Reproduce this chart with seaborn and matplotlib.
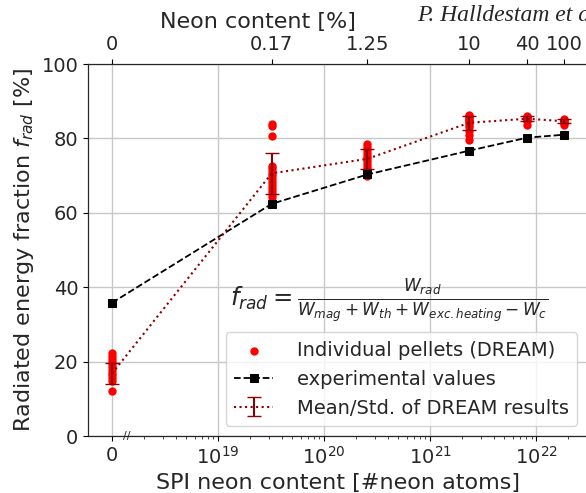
import numpy as np
import pandas as pd
import matplotlib
matplotlib.use("Agg")
import matplotlib.pyplot as plt
import matplotlib.ticker as mticker
import seaborn as sns

# neon atoms per scenario (0 is drawn at 1e18 on the log axis)
neon_atoms = [1e18, 3.2e19, 2.55e20, 2.33e21, 8.2e21, 1.84e22]
neon_pct_labels = ["0", "0.17", "1.25", "10", "40", "100"]

exp_values = [35.8, 62.4, 70.3, 76.7, 80.2, 81.0]
dream_mean = [16.8, 70.6, 74.5, 84.2, 85.3, 84.6]
dream_std = [2.7, 5.6, 2.7, 1.9, 0.6, 0.55]

pellets = [
    [22.2, 21.5, 20.8, 20.0, 19.3, 18.6, 17.8, 17.0, 16.3, 15.5, 14.8, 12.0],
    [84.0, 83.2, 80.7, 72.6, 72.0, 71.2, 70.5, 69.8, 69.0, 68.2, 67.4, 66.6, 65.8, 65.0, 64.3],
    [78.5, 77.8, 77.0, 76.2, 75.4, 74.6, 73.8, 73.0, 72.2, 71.4, 70.6, 69.8],
    [86.3, 86.0, 85.7, 85.3, 85.0, 84.6, 84.2, 83.6, 83.0, 82.0, 80.8, 79.5],
    [86.0, 85.7, 85.4, 85.2, 84.9, 84.6, 83.5],
    [85.3, 85.0, 84.7, 84.5, 84.2, 83.7],
]

bottom_ticks = [1e18, 1e19, 1e20, 1e21, 1e22]
bottom_labels = ["0", "$10^{19}$", "$10^{20}$", "$10^{21}$", "$10^{22}$"]

sns.set_style("ticks")
plt.rcParams["font.family"] = ["DejaVu Sans"]

df_pel = pd.DataFrame(
    [(x, v) for x, vals in zip(neon_atoms, pellets) for v in vals],
    columns=["atoms", "frad"],
)
df_exp = pd.DataFrame({"atoms": neon_atoms, "frad": exp_values})

fig = plt.figure(figsize=(5.86, 4.93), dpi=100)
ax = fig.add_axes([88 / 586, 57 / 493, 499 / 586, 372 / 493])

sns.scatterplot(data=df_pel, x="atoms", y="frad", ax=ax, color="red", s=36,
                linewidth=0, label="Individual pellets (DREAM)", zorder=3)
sns.lineplot(data=df_exp, x="atoms", y="frad", ax=ax, color="black", marker="s",
             markersize=5.5, linestyle="--", linewidth=1.3, markeredgecolor="black",
             label="experimental values", zorder=4)
ax.errorbar(neon_atoms, dream_mean, yerr=dream_std, color="darkred", linestyle=":",
            linewidth=1.5, capsize=5, elinewidth=1.5, label="Mean/Std. of DREAM results",
            zorder=5)

ax.set_xscale("log")
ax.set_xlim(10 ** 17.774, 3e22)
ax.set_ylim(0, 100)
ax.set_xticks(bottom_ticks, labels=bottom_labels)
minor = [k * 10.0 ** e for e in range(18, 23) for k in range(2, 10)]
ax.xaxis.set_minor_locator(mticker.FixedLocator(minor))
ax.xaxis.set_minor_formatter(mticker.NullFormatter())
ax.set_yticks([0, 20, 40, 60, 80, 100])
ax.tick_params(labelsize=14, color="black")
ax.grid(True, which="major", color="#c8c8c8", linewidth=1)
for s in ax.spines.values():
    s.set_color("black")
    s.set_visible(True)
ax.set_xlabel("SPI neon content [#neon atoms]", fontsize=16)
ax.set_ylabel("Radiated energy fraction $f_{rad}$ [%]", fontsize=16)
ax.text(1.38e18, 0, "//", fontsize=8, ha="center", va="center", clip_on=False)

ax2 = ax.twiny()
ax2.set_xscale("log")
ax2.set_xlim(ax.get_xlim())
ax2.set_xticks(neon_atoms, labels=neon_pct_labels)
ax2.xaxis.set_minor_locator(mticker.NullLocator())
ax2.tick_params(labelsize=14, color="black")
ax2.set_xlabel("Neon content [%]", fontsize=16)
ax2.xaxis.set_label_coords(0.34, 1.097)

leg = ax.legend(loc="lower right", fontsize=14, framealpha=0.8, handletextpad=1.2,
                borderpad=0.45)

fig.text(230 / 586, 1 - 301 / 493,
         r"$f_{rad} = \frac{W_{rad}}{W_{mag} + W_{th} + W_{exc.heating} - W_c}$",
         fontsize=17.5, ha="left", va="center")
# author tag runs past the right edge, as in the source figure
fig.text(417 / 586, 1 - 21 / 493, "P. Halldestam et al.", fontsize=17,
         family="Liberation Serif", style="italic", ha="left", va="baseline")

fig.savefig("out.png", dpi=100)
